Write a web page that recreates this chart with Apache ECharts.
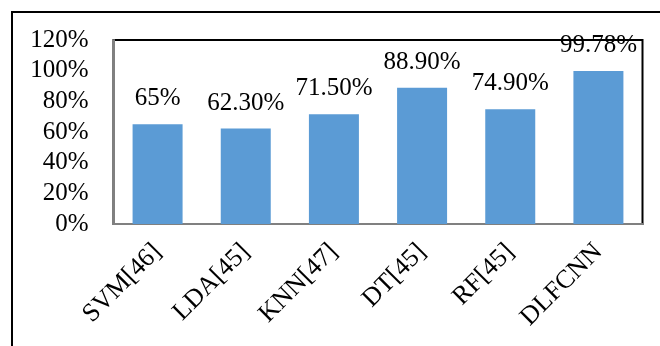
<!DOCTYPE html>
<html>
<head>
<meta charset="utf-8">
<script src="https://cdn.jsdelivr.net/npm/echarts@6/dist/echarts.min.js"></script>
<style>
  html, body { margin: 0; padding: 0; background: #fff; }
  #chart { width: 660px; height: 346px; }
</style>
</head>
<body>
<div id="chart"></div>
<script>
// Accuracy of each classifier (percent)
const categories = ['SVM[46]', 'LDA[45]', 'KNN[47]', 'DT[45]', 'RF[45]', 'DLFCNN'];
const accuracy = [65, 62.3, 71.5, 88.9, 74.9, 99.78];
const accuracyLabels = ['65%', '62.30%', '71.50%', '88.90%', '74.90%', '99.78%'];
const yTicks = [0, 20, 40, 60, 80, 100, 120];

const FONT = 'Liberation Serif';
const chart = echarts.init(document.getElementById('chart'), null, { renderer: 'canvas' });

chart.setOption({
  animation: false,
  backgroundColor: '#ffffff',
  textStyle: { fontFamily: FONT },
  grid: {
    left: 113.5, right: 17.5, top: 40, bottom: 122,
    show: true, borderColor: '#000000', borderWidth: 2, backgroundColor: 'transparent'
  },
  graphic: [
    { type: 'line', shape: { x1: 12, y1: 11, x2: 12, y2: 346 }, style: { stroke: '#000', lineWidth: 2 } },
    { type: 'line', shape: { x1: 11, y1: 12, x2: 660, y2: 12 }, style: { stroke: '#000', lineWidth: 2 } }
  ],
  xAxis: {
    type: 'category',
    data: categories,
    axisLine: { show: true, lineStyle: { color: '#808080', width: 2 } },
    axisTick: { show: false },
    axisLabel: {
      rotate: 45, interval: 0, margin: 24,
      fontFamily: FONT, fontSize: 26, color: '#000'
    }
  },
  yAxis: {
    type: 'value',
    min: yTicks[0], max: yTicks[yTicks.length - 1], interval: 20,
    axisLine: { show: true, lineStyle: { color: '#808080', width: 2 } },
    axisTick: { show: false },
    splitLine: { show: false },
    axisLabel: {
      margin: 25, fontFamily: FONT, fontSize: 25, color: '#000',
      formatter: v => v + '%'
    }
  },
  series: [{
    type: 'bar',
    data: accuracy,
    barWidth: 50,
    itemStyle: { color: '#5B9BD5' },
    label: {
      show: true, position: 'top', distance: 13,
      fontFamily: FONT, fontSize: 25, color: '#000',
      formatter: p => accuracyLabels[p.dataIndex]
    }
  }]
});
</script>
</body>
</html>
